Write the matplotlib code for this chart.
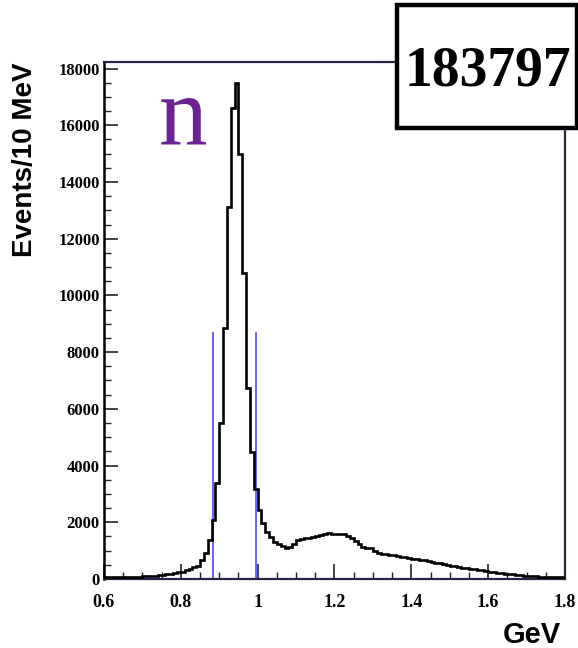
"""
plot.py

invariant mass histogram with the neutron peak and cut lines
"""
import numpy as np
import matplotlib
matplotlib.use('Agg')
import matplotlib.pyplot as plt
from matplotlib.patches import Rectangle
from matplotlib.ticker import MultipleLocator

# 10 MeV bins from 0.6 to 1.8 GeV
bin_lo = 0.6
bin_hi = 1.8
counts = [
    55, 55, 60, 60, 65, 70, 70, 75, 80, 85,
    90, 95, 105, 115, 125, 140, 160, 180, 205, 230,
    260, 300, 350, 410, 470, 670, 915, 1370, 2080, 3390,
    5500, 8840, 13100, 16600, 17500, 15000, 10800, 6720, 4480, 3190,
    2430, 1970, 1670, 1490, 1310, 1220, 1150, 1110, 1130, 1250,
    1360, 1400, 1430, 1460, 1480, 1500, 1560, 1590, 1610, 1600,
    1580, 1600, 1590, 1530, 1440, 1330, 1220, 1140, 1110, 1080,
    1000, 920, 890, 870, 855, 840, 810, 790, 770, 750,
    720, 700, 680, 660, 630, 600, 575, 550, 525, 500,
    470, 450, 430, 405, 385, 360, 340, 320, 300, 280,
    260, 240, 220, 205, 190, 175, 160, 145, 130, 120,
    110, 100, 90, 85, 80, 75, 70, 65, 60, 55,
]
cut_lo = 0.884
cut_hi = 0.995
cut_height = 8700
n_events = "183797"

edges = np.linspace(bin_lo, bin_hi, len(counts) + 1)

fig = plt.figure(figsize=(5.78, 6.48), dpi=100)
ax = fig.add_axes([0.1799, 0.1065, 0.7976, 0.7978])

ax.stairs(counts, edges, color='black', lw=1.9, zorder=3)
ax.vlines([cut_lo, cut_hi], 0, cut_height, color='#4a4aff', lw=1.2, zorder=2)

ax.set_xlim(bin_lo, bin_hi)
ax.set_ylim(0, 18230)

ax.xaxis.set_major_locator(MultipleLocator(0.2))
ax.xaxis.set_minor_locator(MultipleLocator(0.05))
ax.yaxis.set_major_locator(MultipleLocator(2000))
ax.yaxis.set_minor_locator(MultipleLocator(500))
ax.set_xticks(np.arange(0.6, 1.81, 0.2))
ax.set_xticklabels(['0.6', '0.8', '1', '1.2', '1.4', '1.6', '1.8'])

tick_font = {'family': 'Liberation Serif', 'weight': 'bold'}
for lab in ax.get_xticklabels():
    lab.set_fontproperties(tick_font)
    lab.set_fontsize(13)
for lab in ax.get_yticklabels():
    lab.set_fontproperties(tick_font)
    lab.set_fontsize(12)

ax.tick_params(axis='both', which='both', direction='in', color='#222222')
ax.tick_params(axis='x', which='major', length=11, width=1.2, pad=11)
ax.tick_params(axis='x', which='minor', length=5, width=1.0)
ax.tick_params(axis='y', which='major', length=10, width=1.2, pad=3)
ax.tick_params(axis='y', which='minor', length=5, width=1.0)

for side in ['top', 'right', 'bottom']:
    ax.spines[side].set_color('#252545')
    ax.spines[side].set_linewidth(1.6)
ax.spines['left'].set_color('black')
ax.spines['left'].set_linewidth(1.8)

fig.text(0.043, 0.9043, 'Events/10 MeV', rotation=90, ha='center', va='top',
         family='Liberation Sans', weight='bold', fontsize=20)
fig.text(0.970, 0.0077, 'GeV', ha='right', va='baseline',
         family='Liberation Sans', weight='bold', fontsize=21)

# big purple "n" label
ax.text(0.868, 15350, 'n', ha='right', va='baseline', color='#6b2393',
        family='Liberation Serif', fontsize=70)

# event count box over the top right corner
box = Rectangle((0.6869, 0.8025), 0.3114, 0.1898, transform=fig.transFigure,
                facecolor='white', edgecolor='black', lw=3.2, zorder=5)
fig.add_artist(box)
fig.text(0.8443, 0.8904, n_events, ha='center', va='center',
         family='Liberation Serif', weight='bold', fontsize=40, zorder=6)

fig.savefig('out.png', dpi=100, facecolor='white')
